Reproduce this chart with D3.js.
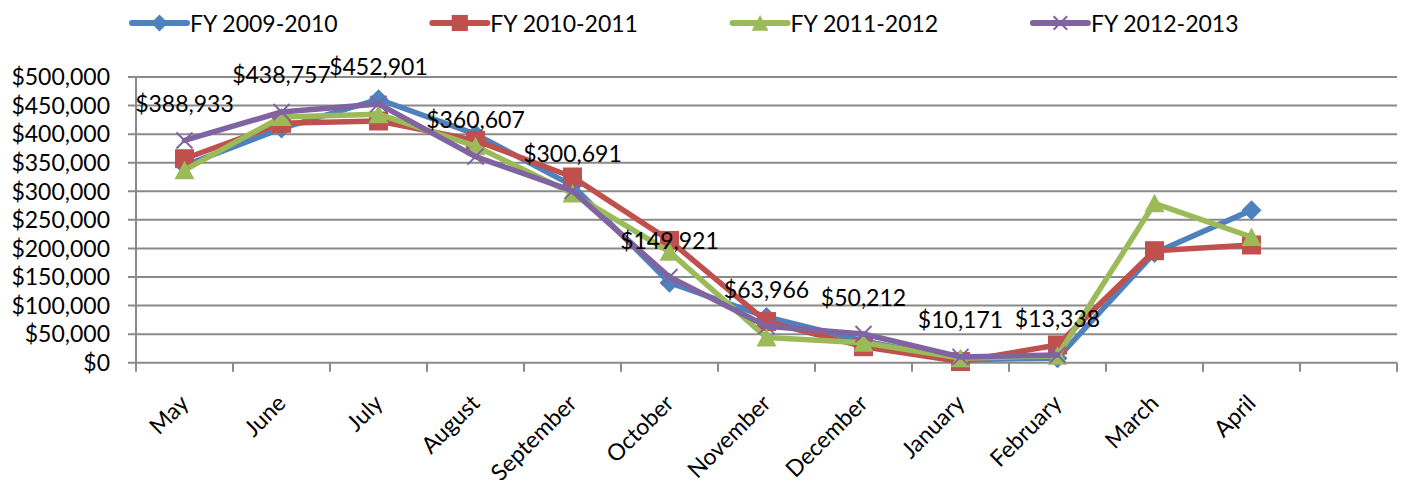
<!DOCTYPE html>
<html>
<head>
<meta charset="utf-8">
<script src="https://cdn.jsdelivr.net/npm/d3@7"></script>
<style>
  html, body { margin: 0; padding: 0; background: #fff; }
  svg { display: block; font-family: Lato, "Open Sans", sans-serif; }
</style>
</head>
<body>
<svg id="chart" width="1403" height="480"></svg>
<script>
// Monthly revenue by fiscal year (May through April, one spare slot at the end)
const categories = ["May", "June", "July", "August", "September", "October",
  "November", "December", "January", "February", "March", "April", ""];

const seriesNames = ["FY 2009-2010", "FY 2010-2011", "FY 2011-2012", "FY 2012-2013"];

const fy0910 = [345000, 410000, 461000, 400000, 310000, 140000, 80000, 38000, 5000, 8000, 192000, 267000];
const fy1011 = [357000, 419000, 423000, 389000, 325000, 214000, 72000, 28000, 2000, 31000, 196000, 206000];
const fy1112 = [337000, 430000, 435000, 379000, 296000, 194000, 44000, 35000, 8000, 12000, 279000, 220000];
const fy1213 = [388933, 438757, 452901, 360607, 300691, 149921, 63966, 50212, 10171, 13338, null, null];

const yTicks = [0, 50000, 100000, 150000, 200000, 250000, 300000, 350000, 400000, 450000, 500000];

const seriesValues = [fy0910, fy1011, fy1112, fy1213];
const colors = ["#4F81BD", "#C0504D", "#9BBB59", "#8064A2"];
const markerKinds = ["diamond", "square", "triangle", "cross"];
const labelledSeries = 3;

const svg = d3.select("#chart");
const plot = { left: 136, right: 1397, top: 77, bottom: 362.7 };

const x = d3.scaleBand().domain(categories).range([plot.left, plot.right]).padding(0);
const cx = c => x(c) + x.bandwidth() / 2;
const y = d3.scaleLinear().domain([0, 500000]).range([plot.bottom, plot.top]);
const money = d3.format("$,");

const gridColor = "#8a8a8a";

// horizontal gridlines, with short ticks left of the axis
svg.append("g").selectAll("line").data(yTicks).join("line")
  .attr("x1", plot.left - 8).attr("x2", plot.right)
  .attr("y1", d => y(d)).attr("y2", d => y(d))
  .attr("stroke", gridColor).attr("stroke-width", 2);

// value axis line
svg.append("line")
  .attr("x1", plot.left).attr("x2", plot.left)
  .attr("y1", plot.top).attr("y2", plot.bottom + 9)
  .attr("stroke", gridColor).attr("stroke-width", 2);

// category tick marks on band boundaries
svg.append("g").selectAll("line").data(categories.slice(1).concat([null])).join("line")
  .attr("x1", (d, i) => x(categories[i]) + x.bandwidth())
  .attr("x2", (d, i) => x(categories[i]) + x.bandwidth())
  .attr("y1", plot.bottom).attr("y2", plot.bottom + 9)
  .attr("stroke", gridColor).attr("stroke-width", 2);

// value axis labels
svg.append("g").selectAll("text").data(yTicks).join("text")
  .attr("x", 110).attr("y", d => y(d)).attr("dy", "0.36em")
  .attr("text-anchor", "end").attr("font-size", 23).attr("fill", "#000")
  .text(d => money(d));

// category labels, rotated
svg.append("g").selectAll("text").data(categories.filter(c => c !== "")).join("text")
  .attr("transform", d => `translate(${cx(d)},399) rotate(-45)`)
  .attr("dy", "0.35em")
  .attr("text-anchor", "end").attr("font-size", 23).attr("fill", "#000")
  .text(d => d);

function drawMarker(g, kind, color, s) {
  if (kind === "diamond") {
    g.append("path").attr("d", `M0,${-10 * s}L${10 * s},0L0,${10 * s}L${-10 * s},0Z`).attr("fill", color);
  } else if (kind === "square") {
    g.append("rect").attr("x", -9.5 * s).attr("y", -9.5 * s)
      .attr("width", 19 * s).attr("height", 19 * s).attr("fill", color);
  } else if (kind === "triangle") {
    g.append("path").attr("d", `M0,${-9.5 * s}L${10 * s},${9 * s}L${-10 * s},${9 * s}Z`).attr("fill", color);
  } else {
    g.append("path").attr("d", `M${-8 * s},${-8 * s}L${8 * s},${8 * s}M${-8 * s},${8 * s}L${8 * s},${-8 * s}`)
      .attr("stroke", color).attr("stroke-width", 2).attr("fill", "none");
  }
}

const line = d3.line()
  .defined(d => d.v != null)
  .x(d => cx(d.c))
  .y(d => y(d.v));

seriesValues.forEach((vals, si) => {
  const pts = vals.map((v, i) => ({ c: categories[i], v }));
  const g = svg.append("g");
  g.append("path").datum(pts).attr("d", line)
    .attr("fill", "none").attr("stroke", colors[si]).attr("stroke-width", 5.5)
    .attr("stroke-linejoin", "round").attr("stroke-linecap", "round");
  pts.filter(p => p.v != null).forEach(p => {
    const m = g.append("g").attr("transform", `translate(${cx(p.c)},${y(p.v)})`);
    drawMarker(m, markerKinds[si], colors[si], 1);
  });
});

// data labels for the latest fiscal year
svg.append("g").selectAll("text")
  .data(seriesValues[labelledSeries].map((v, i) => ({ c: categories[i], v })).filter(d => d.v != null))
  .join("text")
  .attr("x", d => cx(d.c)).attr("y", d => y(d.v) - 28.5)
  .attr("text-anchor", "middle").attr("font-size", 23).attr("fill", "#000")
  .text(d => money(d.v));

// legend
const legend = svg.append("g");
seriesNames.forEach((name, i) => {
  const lx = 132 + i * 300.3;
  const g = legend.append("g").attr("transform", `translate(${lx},0)`);
  g.append("line").attr("x1", 0).attr("x2", 55).attr("y1", 23).attr("y2", 23)
    .attr("stroke", colors[i]).attr("stroke-width", 6).attr("stroke-linecap", "round");
  const m = g.append("g").attr("transform", "translate(27.5,23)");
  drawMarker(m, markerKinds[i], colors[i], 0.85);
  g.append("text").attr("x", 58).attr("y", 32)
    .attr("font-size", 23).attr("fill", "#000").text(name);
});
</script>
</body>
</html>
